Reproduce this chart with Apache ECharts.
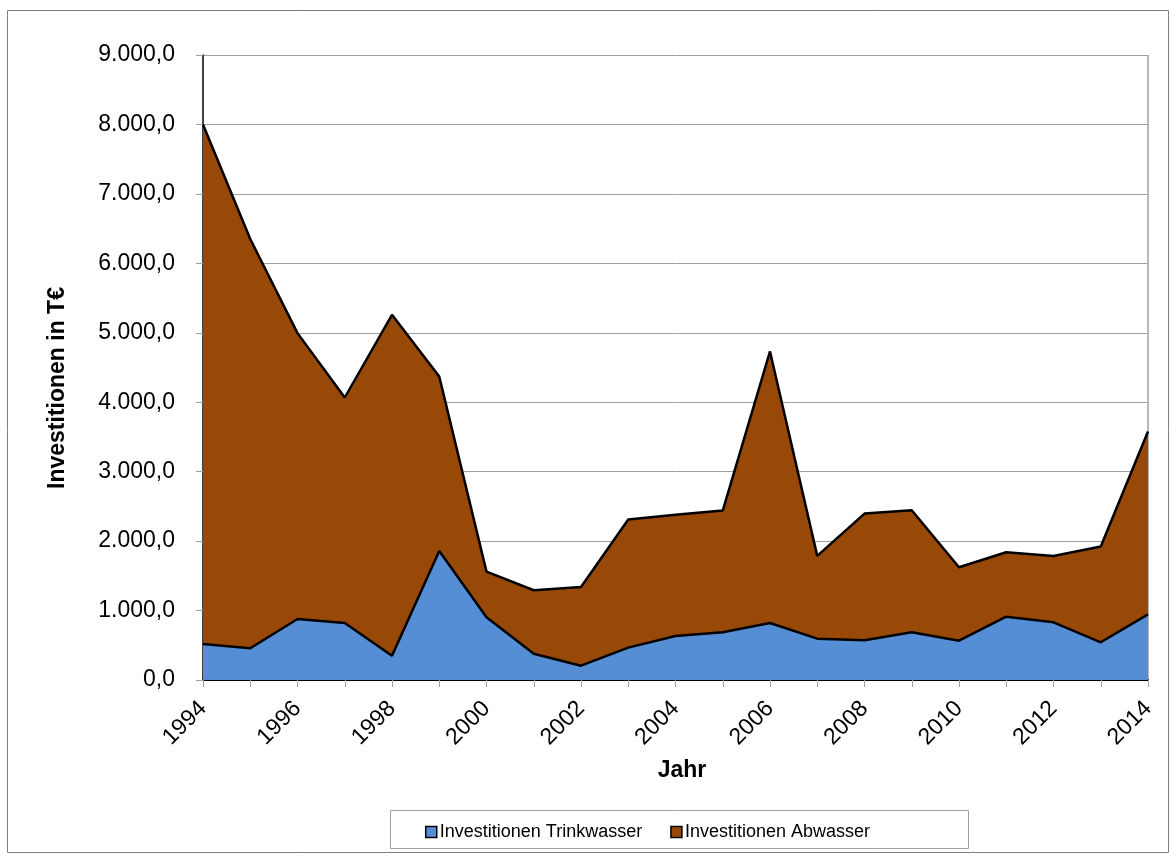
<!DOCTYPE html>
<html><head><meta charset="utf-8">
<script src="https://cdn.jsdelivr.net/npm/echarts@6/dist/echarts.min.js"></script>
<style>html,body{margin:0;padding:0;background:#fff}#c{width:1176px;height:856px}</style>
</head><body><div id="c"></div>
<script>
var years = ['1994','1995','1996','1997','1998','1999','2000','2001','2002','2003','2004','2005','2006','2007','2008','2009','2010','2011','2012','2013','2014'];
var trinkwasser = [520,457,879,821,350,1859,903,379,206,466,634,687,821,595,572,687,566,912,831,543,946];
var abwasser = [7480,5893,4116,3247,4909,2511,658,913,1134,1844,1744,1753,3910,1192,1824,1758,1058,928,956,1378,2632];
var seriesNames = ['Investitionen Trinkwasser','Investitionen Abwasser'];
var yTitle = 'Investitionen in T€';
var xTitle = 'Jahr';
var FONT = '"Liberation Sans", Arial, sans-serif';
function fmt(v){
  var s = Math.round(v).toString().replace(/\B(?=(\d{3})+(?!\d))/g,'.');
  return s + ',0';
}
var chart = echarts.init(document.getElementById('c'));
chart.setOption({
  animation:false,
  backgroundColor:'#fff',
  textStyle:{fontFamily:FONT},
  graphic:[
    {type:'rect',shape:{x:7.5,y:10.5,width:1161,height:842},style:{fill:'none',stroke:'#7f7f7f',lineWidth:1},z:-10},
    {type:'rect',shape:{x:390.5,y:810.5,width:578,height:38},style:{fill:'none',stroke:'#a0a0a0',lineWidth:1},z:-5},
    {type:'line',shape:{x1:1148,y1:55,x2:1148,y2:680},style:{stroke:'#a0a0a0',lineWidth:1.5},z:-1},
    {type:'text',x:58,y:388,rotation:Math.PI/2,
     style:{text:yTitle,font:'bold 23px '+FONT,fill:'#000',textAlign:'center',textVerticalAlign:'middle'}},
    {type:'text',x:682,y:771,
     style:{text:xTitle,font:'bold 23px '+FONT,fill:'#000',textAlign:'center',textVerticalAlign:'middle'}}
  ],
  grid:{left:203,top:55,right:28,bottom:176,containLabel:false},
  legend:{
    top:818,left:420,
    itemWidth:11,itemHeight:11,itemGap:28,icon:'rect',
    textStyle:{fontFamily:FONT,fontSize:18,color:'#000',padding:[0,0,0,-2]},
    data:[
      {name:seriesNames[0],itemStyle:{color:'#558ED5',borderColor:'#000',borderWidth:1.5}},
      {name:seriesNames[1],itemStyle:{color:'#984807',borderColor:'#000',borderWidth:1.5}}
    ]
  },
  xAxis:{
    type:'category',data:years,boundaryGap:false,
    axisLine:{lineStyle:{color:'#000',width:2}},
    axisTick:{show:true,interval:0,length:7,lineStyle:{color:'#a0a0a0'}},
    axisLabel:{interval:1,rotate:45,fontSize:23,color:'#000',fontFamily:FONT,margin:25},
    splitLine:{show:false}
  },
  yAxis:{
    type:'value',min:0,max:9000,interval:1000,
    axisLine:{show:true,lineStyle:{color:'#000',width:1.5}},
    axisTick:{show:true,length:7,lineStyle:{color:'#a0a0a0'}},
    axisLabel:{formatter:fmt,fontSize:23,color:'#000',fontFamily:FONT,margin:28},
    splitLine:{lineStyle:{color:'#a0a0a0',width:1}}
  },
  series:[
    {name:seriesNames[0],type:'line',stack:'t',data:trinkwasser,symbol:'none',
     lineStyle:{color:'#000',width:2.5},areaStyle:{color:'#558ED5',opacity:1},itemStyle:{color:'#558ED5'}},
    {name:seriesNames[1],type:'line',stack:'t',data:abwasser,symbol:'none',
     lineStyle:{color:'#000',width:2.5},areaStyle:{color:'#984807',opacity:1},itemStyle:{color:'#984807'}}
  ]
});
</script></body></html>
